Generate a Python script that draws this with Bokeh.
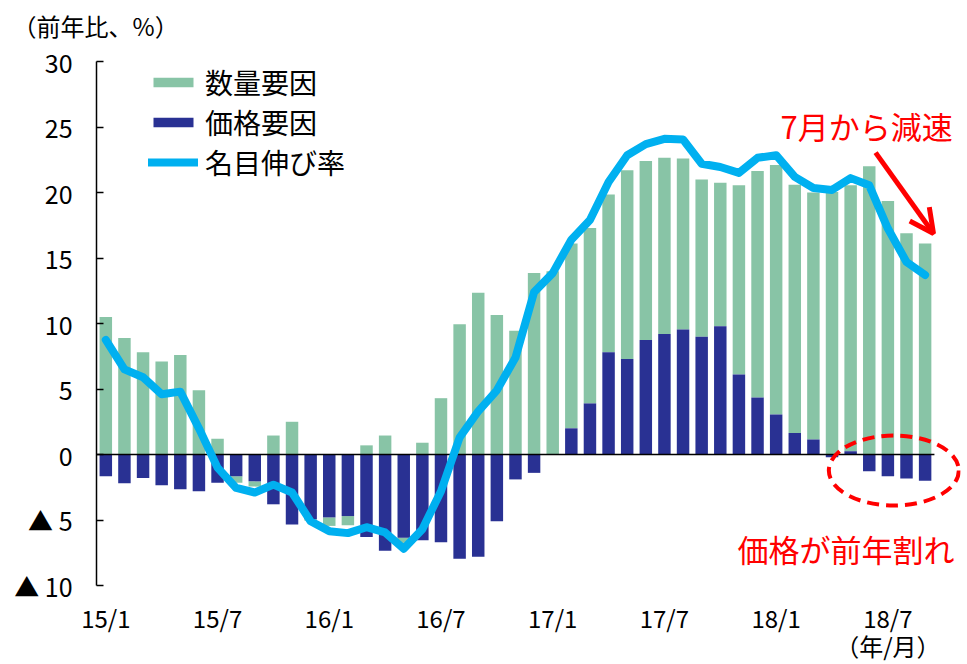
import numpy as np
from bokeh.plotting import figure
from bokeh.models import (FixedTicker, Legend, LegendItem, Label, Arrow, OpenHead,
                          ColumnDataSource, Range1d)
from bokeh.embed import file_html
from bokeh.resources import INLINE

# ---------------- data ----------------
months = [f"{y}/{m}" for y in (15, 16, 17, 18) for m in range(1, 13)][:45]
tick_months = ["15/1", "15/7", "16/1", "16/7", "17/1", "17/7", "18/1", "18/7"]
y_ticks = [-10, -5, 0, 5, 10, 15, 20, 25, 30]
y_tick_labels = ["▲ 10", "▲ 5", "0", "5", "10", "15", "20", "25", "30"]
y_title = "（前年比、%）"
x_title = "（年/月）"

# 数量要因 (quantity factor)
quantity = [10.5, 8.9, 7.8, 7.1, 7.6, 4.9, 1.2, -0.5, -0.4, 1.45,
            2.5, -0.1, -0.65, -0.7, 0.7, 1.45, -0.4, 0.9, 4.3, 9.95,
            12.35, 10.65, 9.45, 13.85, 14.0, 14.1, 13.4, 12.05, 14.4, 13.65,
            13.45, 13.05, 12.0, 10.95, 14.45, 17.3, 19.05, 18.95, 18.85, 20.05,
            20.3, 22.0, 19.35, 16.9, 16.1]
# 価格要因 (price factor)
price = [-1.65, -2.2, -1.8, -2.35, -2.65, -2.8, -2.15, -1.65, -2.05, -3.8,
         -5.35, -4.95, -4.8, -4.7, -6.3, -7.35, -6.35, -6.55, -6.7, -7.95,
         -7.8, -5.1, -1.9, -1.4, 0.0, 2.0, 3.9, 7.8, 7.3, 8.75,
         9.2, 9.55, 9.0, 9.8, 6.1, 4.35, 3.05, 1.65, 1.15, -0.2,
         0.25, -1.27, -1.65, -1.83, -2.0]
# 名目伸び率 (nominal growth rate)
nominal = [8.75, 6.5, 5.9, 4.6, 4.8, 2.0, -1.0, -2.55, -2.9, -2.3,
           -2.9, -5.1, -5.85, -6.0, -5.55, -5.95, -7.2, -5.7, -2.8, 1.3,
           3.3, 4.9, 7.4, 12.4, 13.85, 16.4, 17.9, 20.8, 22.85, 23.7,
           24.1, 24.05, 22.2, 21.95, 21.5, 22.65, 22.85, 21.2, 20.35, 20.2,
           21.1, 20.55, 17.25, 14.7, 13.7]

# ---------------- styling constants ----------------
GREEN = "#88C4A6"
BLUE = "#293193"
CYAN = "#00B0F0"
FONT = "Noto Sans CJK JP"

n = len(months)
x = np.arange(n)
q = np.array(quantity)
pr = np.array(price)
q_base = np.where(np.sign(q) == np.sign(pr), pr, 0.0)
q_top = q_base + q

src = ColumnDataSource(dict(x=x, q_base=q_base, q_top=q_top,
                            p_base=np.zeros(n), p_top=pr, nominal=nominal))

Y_LOW, Y_HIGH = y_ticks[0], y_ticks[-1]
X_LOW = -0.5
p = figure(width=964, height=664, output_backend="svg", toolbar_location=None,
           x_range=Range1d(-5.656, 45.90), y_range=Range1d(-16.03, 34.66),
           min_border_left=0, min_border_top=0, min_border_bottom=0,
           min_border_right=4)
p.outline_line_color = None
p.xgrid.visible = False
p.ygrid.visible = False
p.background_fill_color = "white"
p.border_fill_color = "white"

r_q = p.vbar(x="x", bottom="q_base", top="q_top", width=0.67, source=src,
             fill_color=GREEN, line_color=None)
r_p = p.vbar(x="x", bottom="p_base", top="p_top", width=0.67, source=src,
             fill_color=BLUE, line_color=None)
p.segment(x0=[X_LOW], y0=[0], x1=[n - 0.5], y1=[0], line_color="black", line_width=1.5)
r_l = p.line(x="x", y="nominal", source=src, line_color=CYAN, line_width=8,
             line_join="round", line_cap="round")

# y axis, placed at the start of the categories
p.yaxis.ticker = FixedTicker(ticks=y_ticks)
p.yaxis.bounds = (Y_LOW, Y_HIGH)
p.yaxis.fixed_location = X_LOW
p.yaxis.major_label_overrides = dict(zip(y_ticks, y_tick_labels))
p.yaxis.major_tick_in = 7
p.yaxis.major_tick_out = 0
p.yaxis.minor_tick_line_color = None
p.yaxis.axis_line_width = 1.5
p.yaxis.major_tick_line_width = 1.5
p.yaxis.major_label_text_font = FONT
p.yaxis.major_label_text_font_size = "25px"
p.yaxis.major_label_text_color = "black"
p.yaxis.major_label_standoff = 24

# x axis, placed at the bottom of the value scale
xt = [months.index(t) for t in tick_months]
p.xaxis.ticker = FixedTicker(ticks=xt)
p.xaxis.major_label_overrides = {i: t for i, t in zip(xt, tick_months)}
p.xaxis.fixed_location = Y_LOW
p.xaxis.axis_line_color = None
p.xaxis.major_tick_line_color = None
p.xaxis.minor_tick_line_color = None
p.xaxis.major_label_text_font = FONT
p.xaxis.major_label_text_font_size = "24px"
p.xaxis.major_label_text_color = "black"
p.xaxis.major_label_standoff = 8

# unit titles
p.add_layout(Label(x=-5.01, y=32.75, text=y_title, text_color="black",
                   text_font=FONT, text_font_size="24px",
                   text_baseline="middle", text_align="left"))
p.add_layout(Label(x=months.index("18/7"), y=-14.58, text=x_title, text_color="black",
                   text_font=FONT, text_font_size="24px",
                   text_baseline="middle", text_align="center"))

legend = Legend(items=[LegendItem(label="数量要因", renderers=[r_q]),
                       LegendItem(label="価格要因", renderers=[r_p]),
                       LegendItem(label="名目伸び率", renderers=[r_l])],
                location=(148, 482), orientation="vertical",
                border_line_alpha=0, background_fill_alpha=0, padding=0, margin=0,
                spacing=0, glyph_width=50, glyph_height=12, label_height=28,
                label_standoff=7, label_text_font=FONT, label_text_font_size="28px",
                label_text_color="black")
p.add_layout(legend)

# annotations
p.ellipse(x=[42.32], y=[-1.22], width=6.98, height=5.34, fill_alpha=0,
          line_color="red", line_width=4, line_dash="12 7")
p.add_layout(Arrow(end=OpenHead(size=24, line_color="red", line_width=5),
                   x_start=41.34, y_start=23.05, x_end=44.45, y_end=16.87,
                   line_color="red", line_width=5))
p.add_layout(Label(x=36.23, y=25.11, text="7月から減速", text_color="red",
                   text_font=FONT, text_font_size="31px",
                   text_baseline="middle", text_align="left"))
p.add_layout(Label(x=33.93, y=-7.18, text="価格が前年割れ", text_color="red",
                   text_font=FONT, text_font_size="31px",
                   text_baseline="middle", text_align="left"))

open("out.html", "w").write(file_html(p, INLINE))
